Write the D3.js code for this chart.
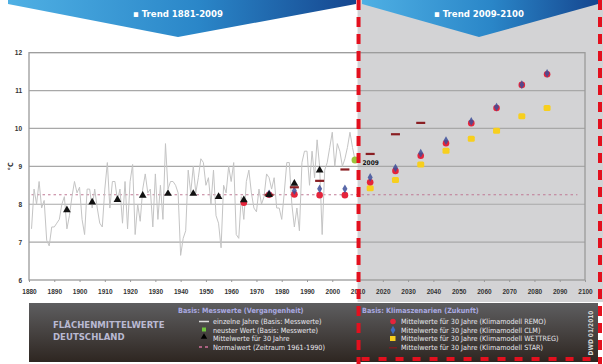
<!DOCTYPE html>
<html>
<head>
<meta charset="utf-8">
<script src="https://cdn.jsdelivr.net/npm/d3@7"></script>
<style>
  body { margin: 0; background: #fff; }
  svg { display: block; font-family: "Liberation Sans Narrow", "DejaVu Sans Condensed", "Liberation Sans", sans-serif; }
</style>
</head>
<body>
<div id="chart"></div>
<script>
// annual means 1881-2009 (Flächenmittel Deutschland)
var years = d3.range(1881, 2010);
var temps = [7.35, 8.4, 8.0, 8.6, 7.9, 8.1, 7.05, 6.9, 7.4, 7.4, 7.5, 7.6, 8.0, 8.2, 7.35, 7.7, 8.2, 8.6, 8.3, 8.45,
  7.6, 7.2, 8.4, 8.4, 7.9, 8.4, 7.9, 7.5, 7.4, 8.4, 9.1, 7.9, 8.6, 8.6, 8.1, 8.4, 7.5, 8.6, 7.35, 8.6,
  9.05, 7.2, 8.0, 7.55, 8.4, 8.8, 8.3, 8.4, 7.4, 8.8, 7.6, 8.5, 7.6, 9.6, 8.4, 8.6, 8.6, 8.5, 8.3, 6.65,
  7.1, 7.3, 8.9, 8.3, 9.0, 8.3, 8.7, 9.2, 9.1, 8.5, 8.7, 8.0, 8.9, 7.7, 7.5, 6.85, 8.5, 8.3, 9.0, 8.6,
  9.1, 7.2, 7.1, 8.2, 7.6, 8.6, 8.9, 8.3, 7.9, 7.8, 8.4, 8.0, 8.2, 8.8, 8.7, 8.4, 8.7, 7.9, 7.9, 7.6,
  8.3, 9.1, 9.1, 8.0, 7.4, 7.9, 7.3, 9.1, 9.4, 9.4, 8.5, 9.4, 8.7, 9.7, 9.0, 7.2, 8.9, 9.1, 9.5, 9.9,
  9.0, 9.6, 9.4, 9.0, 9.2, 9.5, 9.9, 9.5, 9.17];

var triYears = [1895, 1905, 1915, 1925, 1935, 1945, 1955, 1965, 1975, 1985, 1995];
var triVals = [7.85, 8.05, 8.12, 8.23, 8.28, 8.28, 8.2, 8.11, 8.25, 8.55, 8.9];

var remoYears = [1965, 1975, 1985, 1995, 2005, 2015, 2025, 2035, 2045, 2055, 2065, 2075, 2085];
var remoVals = [8.04, 8.25, 8.26, 8.24, 8.24, 8.58, 8.88, 9.28, 9.61, 10.14, 10.54, 11.15, 11.43];

var clmYears = [1975, 1985, 1995, 2005, 2015, 2025, 2035, 2045, 2055, 2065, 2075, 2085];
var clmVals = [8.25, 8.33, 8.38, 8.38, 8.68, 8.93, 9.32, 9.65, 10.16, 10.54, 11.13, 11.43];

var wettYears = [2015, 2025, 2035, 2045, 2055, 2065, 2075, 2085];
var wettVals = [8.42, 8.64, 9.05, 9.41, 9.73, 9.94, 10.32, 10.54];

var starYears = [1975, 1985, 1995, 2005, 2015, 2025, 2035];
var starVals = [8.25, 8.45, 8.62, 8.92, 9.33, 9.85, 10.15];

var latestYear = 2009, latestVal = 9.17;
var normalVal = 8.25;

var yTicks = [6, 7, 8, 9, 10, 11, 12];
var xTicks = d3.range(1880, 2101, 10);

var W = 603, H = 364;
var svg = d3.select("#chart").append("svg").attr("width", W).attr("height", H);
var defs = svg.append("defs");

var x = d3.scaleLinear().domain([1880, 2100]).range([29, 585]);
var y = d3.scaleLinear().domain([6, 12]).range([280, 52.7]);
var xSplit = x(2010);

// grey future area
svg.append("rect").attr("x", xSplit).attr("y", 0).attr("width", W - xSplit).attr("height", 302)
  .attr("fill", "#d3d3d5");

// banners
var g1 = defs.append("linearGradient").attr("id", "bn").attr("x1", 0).attr("x2", 1);
g1.append("stop").attr("offset", 0).attr("stop-color", "#4fb0e4");
g1.append("stop").attr("offset", 0.55).attr("stop-color", "#2a86c8");
g1.append("stop").attr("offset", 1).attr("stop-color", "#15468f");

function banner(x0, x1, tipX, label) {
  svg.append("path")
    .attr("d", "M" + x0 + ",0 L" + x1 + ",0 L" + x1 + ",4 L" + tipX + ",37 L" + x0 + ",4 Z")
    .attr("fill", "url(#bn)");
  svg.append("text").attr("x", tipX).attr("y", 17).attr("text-anchor", "middle")
    .attr("fill", "#fff").attr("font-size", 9.5).attr("font-weight", "bold")
    .text("\u25AA Trend " + label);
}
banner(8, 356, 178, "1881-2009");
banner(362, 598, 479, "2009-2100");

// grid and frame
svg.append("g").selectAll("line").data(yTicks.slice(1, 6)).enter().append("line")
  .attr("x1", x(1880)).attr("x2", x(2100))
  .attr("y1", function(d) { return y(d); }).attr("y2", function(d) { return y(d); })
  .attr("stroke", "#a8a8a8").attr("stroke-width", 1.2);
svg.append("rect").attr("x", x(1880)).attr("y", y(12)).attr("width", x(2100) - x(1880)).attr("height", y(6) - y(12))
  .attr("fill", "none").attr("stroke", "#9a9a9a").attr("stroke-width", 1.3);

// axes
var yAxis = d3.axisLeft(y).tickValues(yTicks).tickFormat(d3.format("d")).tickSize(0).tickPadding(7);
svg.append("g").attr("transform", "translate(" + x(1880) + ",0)").call(yAxis)
  .call(function(g) { g.select(".domain").remove(); })
  .selectAll("text").attr("font-size", 6.5).attr("font-weight", "bold").attr("fill", "#333");
var xAxis = d3.axisBottom(x).tickValues(xTicks).tickFormat(d3.format("d")).tickSize(2).tickPadding(7);
svg.append("g").attr("transform", "translate(0," + y(6) + ")").call(xAxis)
  .call(function(g) { g.select(".domain").remove(); g.selectAll("line").attr("stroke", "#999"); })
  .selectAll("text").attr("font-size", 6.5).attr("font-weight", "bold").attr("fill", "#333");

svg.append("text").attr("transform", "translate(13," + y(9) + ") rotate(-90)")
  .attr("text-anchor", "middle").attr("font-size", 7).attr("font-weight", "bold").attr("fill", "#333").text("°C");

// normal value
svg.append("line").attr("x1", x(1881)).attr("x2", x(2097)).attr("y1", y(normalVal)).attr("y2", y(normalVal))
  .attr("stroke", "#c07a95").attr("stroke-width", 1.2).attr("stroke-dasharray", "2.5,3");

// annual line
var line = d3.line().x(function(d, i) { return x(years[i]); }).y(function(d) { return y(d); });
svg.append("path").datum(temps).attr("d", line)
  .attr("fill", "none").attr("stroke", "#c4c4c4").attr("stroke-width", 1);

// scenario markers
svg.append("g").selectAll("rect").data(wettVals).enter().append("rect")
  .attr("x", function(d, i) { return x(wettYears[i]) - 3.5; }).attr("y", function(d) { return y(d) - 3; })
  .attr("width", 7).attr("height", 6).attr("rx", 1.5).attr("fill", "#f7cf1e");
svg.append("g").selectAll("circle").data(remoVals).enter().append("circle")
  .attr("cx", function(d, i) { return x(remoYears[i]); }).attr("cy", function(d) { return y(d); })
  .attr("r", 3.3).attr("fill", "#e5243b");
var diamond = d3.symbol().type(d3.symbolDiamond).size(22);
svg.append("g").selectAll("path").data(clmVals).enter().append("path")
  .attr("d", diamond)
  .attr("transform", function(d, i) { return "translate(" + x(clmYears[i]) + "," + (y(d) - 1) + ")"; })
  .attr("fill", "#3d4f9a").attr("fill-opacity", 0.85);
svg.append("g").selectAll("rect").data(starVals).enter().append("rect")
  .attr("x", function(d, i) { return x(starYears[i]) - 4.5; }).attr("y", function(d) { return y(d) - 1; })
  .attr("width", 9).attr("height", 2.2).attr("fill", "#8a1e22");

// 30-year means
var tri = d3.symbol().type(d3.symbolTriangle).size(26);
svg.append("g").selectAll("path").data(triVals).enter().append("path")
  .attr("d", tri)
  .attr("transform", function(d, i) { return "translate(" + x(triYears[i]) + "," + y(d) + ")"; })
  .attr("fill", "#111");

// latest value
svg.append("circle").attr("cx", x(latestYear)).attr("cy", y(latestVal)).attr("r", 3.5).attr("fill", "#9bc53d");
svg.append("text").attr("x", xSplit + 5).attr("y", y(latestVal) + 5).attr("font-size", 6.5).attr("font-weight", "bold")
  .attr("fill", "#111").text("2009");

// legend panel
var g2 = defs.append("linearGradient").attr("id", "lp").attr("x1", 0).attr("x2", 0).attr("y1", 0).attr("y2", 1);
g2.append("stop").attr("offset", 0).attr("stop-color", "#5e5e60");
g2.append("stop").attr("offset", 1).attr("stop-color", "#2e2621");
svg.append("rect").attr("x", 29).attr("y", 303).attr("width", 569).attr("height", 59).attr("fill", "url(#lp)");

svg.append("text").attr("x", 53).attr("y", 328).attr("font-size", 9.5).attr("font-weight", "bold")
  .attr("fill", "#b9b9d2").text("FLÄCHENMITTELWERTE");
svg.append("text").attr("x", 53).attr("y", 340).attr("font-size", 9.5).attr("font-weight", "bold")
  .attr("fill", "#b9b9d2").text("DEUTSCHLAND");

var legFont = 7.2, legCol = "#e8e8ee", headCol = "#a9a9e0";
svg.append("text").attr("x", 178).attr("y", 313).attr("font-size", legFont).attr("font-weight", "bold")
  .attr("fill", headCol).text("Basis: Messwerte (Vergangenheit)");
var leftItems = ["einzelne Jahre (Basis: Messwerte)", "neuster Wert (Basis: Messwerte)",
  "Mittelwerte für 30 Jahre", "Normalwert (Zeitraum 1961-1990)"];
leftItems.forEach(function(t, i) {
  svg.append("text").attr("x", 213).attr("y", 324 + i * 8.6).attr("font-size", legFont).attr("fill", legCol).text(t);
});
svg.append("line").attr("x1", 199).attr("x2", 209).attr("y1", 321.5).attr("y2", 321.5).attr("stroke", "#ddd").attr("stroke-width", 1.5);
svg.append("rect").attr("x", 202).attr("y", 327.5).attr("width", 4).attr("height", 4).attr("fill", "#6fc33d");
svg.append("path").attr("d", tri.size(18)).attr("transform", "translate(204,337)").attr("fill", "#000");
svg.append("line").attr("x1", 199).attr("x2", 210).attr("y1", 347).attr("y2", 347).attr("stroke", "#d0709a")
  .attr("stroke-width", 1.5).attr("stroke-dasharray", "3,3");

svg.append("text").attr("x", 362).attr("y", 313).attr("font-size", legFont).attr("font-weight", "bold")
  .attr("fill", headCol).text("Basis: Klimaszenarien (Zukunft)");
var rightItems = ["REMO", "CLM", "WETTREG", "STAR"];
rightItems.forEach(function(t, i) {
  svg.append("text").attr("x", 401).attr("y", 324 + i * 8.6).attr("font-size", legFont).attr("fill", legCol)
    .text("Mittelwerte für 30 Jahre (Klimamodell " + t + ")");
});
svg.append("circle").attr("cx", 393).attr("cy", 321.5).attr("r", 2.8).attr("fill", "#e5243b");
svg.append("path").attr("d", diamond.size(20)).attr("transform", "translate(393,330)").attr("fill", "#3d6bc0");
svg.append("rect").attr("x", 390).attr("y", 336).attr("width", 5.5).attr("height", 5).attr("fill", "#f7cf1e");
svg.append("rect").attr("x", 389).attr("y", 347).attr("width", 8).attr("height", 1.5).attr("fill", "#7a1e22");

svg.append("text").attr("transform", "translate(593,333) rotate(-90)").attr("text-anchor", "middle")
  .attr("font-size", 6.5).attr("font-weight", "bold").attr("fill", "#d8d8d8").text("DWD 01/2010");

// red dashed frame around the future part
var redDash = { stroke: "#e3101e", w: 4, dash: "10,7" };
svg.append("line").attr("x1", xSplit + 1).attr("x2", xSplit + 1).attr("y1", 0).attr("y2", H)
  .attr("stroke", redDash.stroke).attr("stroke-width", redDash.w).attr("stroke-dasharray", redDash.dash);
svg.append("line").attr("x1", 600).attr("x2", 600).attr("y1", 0).attr("y2", H)
  .attr("stroke", redDash.stroke).attr("stroke-width", redDash.w).attr("stroke-dasharray", redDash.dash);
svg.append("line").attr("x1", xSplit + 4).attr("x2", 600).attr("y1", 359).attr("y2", 359)
  .attr("stroke", redDash.stroke).attr("stroke-width", redDash.w).attr("stroke-dasharray", "8,9");
</script>
</body>
</html>
